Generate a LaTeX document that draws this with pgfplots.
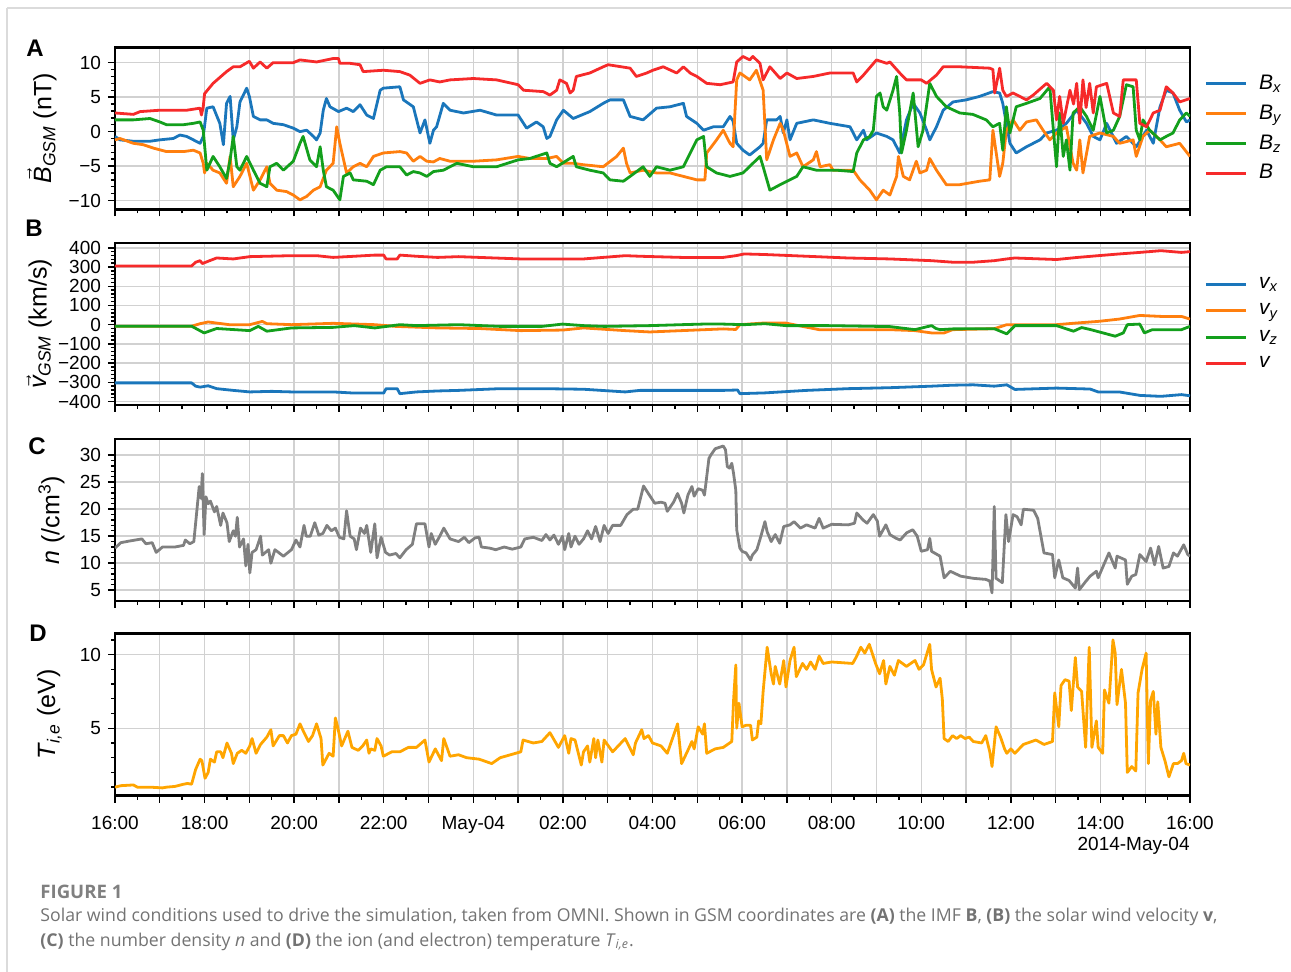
\documentclass[border=0pt]{standalone}
\usepackage{pgfplots}
\pgfplotsset{compat=1.18}
\usepackage{amsmath}
\usepackage{fontspec}
\setmainfont{Liberation Sans}
\newfontfamily\capfont{Open Sans}
\definecolor{cblue}{HTML}{1A76BB}
\definecolor{corange}{HTML}{FF7F0E}
\definecolor{cgreen}{HTML}{139F1C}
\definecolor{cred}{HTML}{F62A2A}
\definecolor{cgray}{HTML}{808080}
\definecolor{ctemp}{HTML}{FFA500}
\pgfplotsset{
  panel/.style={
    width=537.5pt, height=81pt, scale only axis,
    xmin=0, xmax=24,
    xtick={0,1,...,24},
    minor x tick num=1,
    xticklabels={},
    grid=major,
    major grid style={line width=0.7pt, color=black!18},
    axis line style={line width=1.3pt},
    tick style={line width=0.7pt, color=black},
    major tick length=3.5pt, minor tick length=2pt,
    tick align=outside,
    xtick pos=bottom, ytick pos=left,
    tick label style={font=\fontsize{9.5}{10}\selectfont},
    xticklabel style={yshift=-3pt},
    y label style={anchor=center, font=\fontsize{12.5}{13}\selectfont},
    every axis plot/.append style={line width=1.4pt, line join=round},
    legend style={at={(axis description cs:1,0.5)}, anchor=west, xshift=4pt, draw=none, fill=none,
      font=\fontsize{10.5}{11}\selectfont, row sep=2.2pt},
    legend cell align=left,
    legend image code/.code={\draw[#1, line width=1.4pt] (0pt,0pt) -- (20pt,0pt); \path (24pt,0pt);},
  }
}
\begin{document}
\begin{tikzpicture}
\useasboundingbox (0,0) rectangle (645.5pt,-486pt);
\draw[black!14, line width=0.6pt] (3.5pt,-4pt) -- (645.5pt,-4pt);
\draw[black!14, line width=0.6pt] (3.5pt,-4pt) -- (3.5pt,-486pt);

% ---------------- Panel A ----------------
\begin{axis}[panel, at={(57.5pt,-104.75pt)}, anchor=south west,
  ymin=-11.3, ymax=12.2,
  ytick={-10,-5,0,5,10}, yticklabels={−10,−5,0,5,10},
  minor y tick num=4,
  ylabel={$\vec{\text{\itshape B}}$\textsubscript{\itshape GSM} (nT)},
  y label style={at={(axis description cs:-0.068,0.5)}},
]
\addplot[cblue] table {
0 -0.7
0.11 -1.2
0.41 -1.4
0.78 -1.4
1.0 -1.2
1.30 -1.0
1.45 -0.5
1.60 -0.7
1.75 -1.2
1.90 -1.7
1.97 -0.7
2.05 3.4
2.19 3.6
2.34 1.2
2.42 -1.9
2.49 4.1
2.57 5.1
2.64 -1.2
2.72 0.7
2.79 4.3
2.94 6.3
3.0 5.1
3.09 2.2
3.24 1.7
3.39 1.7
3.53 1.2
3.76 1.0
3.98 0.5
4.13 0.0
4.28 0.2
4.43 -0.7
4.50 -1.2
4.58 -0.2
4.65 3.1
4.72 4.8
4.80 3.6
4.99 2.9
5.17 3.4
5.32 2.9
5.47 3.9
5.62 2.4
5.77 1.9
5.92 6.0
5.99 6.3
6.36 6.5
6.44 4.6
6.66 3.6
6.81 -0.2
6.92 1.7
7.03 -1.7
7.11 0.2
7.18 0.7
7.33 4.1
7.48 3.1
7.78 2.7
8.15 3.1
8.52 2.4
9.0 2.4
9.19 0.5
9.41 1.4
9.56 0.7
9.64 -1.0
9.71 -0.7
9.86 1.7
10.01 3.1
10.23 1.9
10.60 2.9
10.90 4.1
11.05 4.6
11.35 4.6
11.50 2.2
11.79 1.7
12.09 3.4
12.39 3.6
12.69 4.1
12.76 2.2
12.99 1.2
13.14 0.2
13.36 0.7
13.58 0.7
13.73 2.2
13.80 1.5
13.88 -1.7
14.02 -2.7
14.17 -3.4
14.40 -2.2
14.47 -1.7
14.55 1.7
14.77 1.7
14.85 2.2
14.92 -0.2
15.0 1.7
15.07 -1.2
15.22 1.2
15.59 1.7
15.96 1.2
16.41 0.7
16.56 -1.2
16.71 0.2
16.78 -1.2
17.0 -0.2
17.23 -0.7
17.37 -1.2
17.52 -3.1
17.67 1.7
17.82 4.1
17.97 2.7
18.12 0.2
18.19 -1.2
18.34 0.7
18.49 3.1
18.71 4.3
19.0 4.6
19.30 5.1
19.60 5.8
19.75 5.6
19.82 4.1
19.98 -1.7
20.12 -3.1
20.35 -2.2
20.65 -1.2
20.80 -0.2
21.02 0.2
21.24 1.2
21.47 3.1
21.69 1.2
21.84 -0.7
21.99 -1.2
22.14 1.2
22.36 -1.7
22.58 -0.7
22.80 -2.2
23.03 0.2
23.18 -1.7
23.33 3.6
23.47 6.0
23.62 5.6
23.77 3.1
23.92 1.4
24.0 1.7
};
\addlegendentry{\itshape B\textsubscript{x}}
\addplot[corange] table {
0 -1.2
0.11 -1.0
0.41 -1.7
0.63 -1.9
0.86 -2.4
1.15 -2.9
1.53 -2.9
1.75 -2.7
1.90 -3.1
1.97 -4.6
2.0 -6.0
2.05 -4.6
2.19 -5.6
2.34 -6.0
2.49 -7.5
2.57 -3.6
2.64 -8.0
2.79 -6.5
2.94 -4.6
3.09 -8.5
3.24 -7.0
3.39 -5.1
3.46 -7.5
3.61 -8.5
3.83 -8.7
3.98 -9.2
4.13 -9.9
4.28 -9.4
4.43 -8.5
4.58 -8.0
4.72 -5.6
4.87 -4.6
4.95 0.7
5.02 -1.7
5.17 -6.0
5.32 -5.1
5.47 -4.6
5.62 -5.1
5.77 -3.6
5.99 -3.1
6.36 -2.9
6.51 -3.1
6.66 -4.3
6.81 -3.6
6.96 -4.3
7.11 -4.4
7.25 -3.9
7.48 -4.3
8.0 -4.3
8.52 -4.1
9.0 -3.6
9.26 -3.9
9.64 -3.9
9.86 -3.6
10.01 -4.6
10.23 -4.6
10.45 -4.8
10.90 -5.1
11.20 -3.6
11.35 -2.4
11.42 -4.6
11.50 -6.0
11.79 -5.6
12.09 -6.0
12.39 -6.0
12.69 -6.5
12.99 -7.0
13.17 -7.0
13.21 -3.1
13.43 -1.2
13.58 0.2
13.73 -1.7
13.80 -2.2
13.88 7.5
13.95 8.5
14.02 8.2
14.17 7.5
14.32 8.9
14.47 6.0
14.55 -4.1
14.70 -1.2
14.85 1.2
14.92 0.2
15.07 -3.6
15.22 -3.1
15.36 -5.1
15.59 -4.1
15.66 -2.9
15.74 -5.1
15.96 -4.8
16.03 -5.6
16.48 -5.6
16.63 -7.0
16.85 -8.5
17.0 -9.9
17.15 -8.5
17.30 -9.2
17.45 -6.5
17.49 -3.6
17.60 -6.5
17.74 -7.0
17.89 -4.3
17.97 -6.0
18.12 -5.6
18.19 -3.9
18.34 -5.6
18.56 -7.7
18.86 -7.7
19.30 -7.2
19.53 -7.0
19.60 0.2
19.75 -6.5
19.82 -4.6
19.90 0.2
20.05 1.7
20.20 0.2
20.35 1.4
20.57 1.7
20.72 0.2
20.87 -1.2
21.02 -0.2
21.24 0.7
21.39 -4.6
21.47 -5.6
21.54 -1.2
21.61 -6.0
21.76 -0.7
21.99 -0.2
22.29 -0.7
22.43 -1.7
22.73 -1.2
22.80 -3.6
22.95 -0.7
23.10 0.2
23.33 -1.2
23.47 -2.2
23.77 -1.7
24.0 -3.6
};
\addlegendentry{\itshape B\textsubscript{y}}
\addplot[cgreen] table {
0 1.7
0.41 1.7
0.78 1.9
1.0 1.4
1.15 1.0
1.53 1.0
1.75 1.2
1.90 1.4
1.97 0.2
2.05 -5.6
2.19 -3.6
2.34 -5.1
2.49 -6.8
2.57 -4.1
2.64 -0.7
2.72 -5.1
2.79 -5.6
2.94 -3.6
3.09 -5.6
3.24 -7.5
3.39 -8.0
3.46 -5.1
3.61 -4.6
3.76 -5.6
3.98 -4.3
4.13 -1.7
4.20 -0.7
4.35 -4.1
4.50 -5.1
4.58 -2.2
4.65 -5.6
4.72 -8.0
4.87 -8.5
5.02 -9.9
5.10 -6.5
5.25 -6.0
5.32 -7.0
5.62 -7.2
5.77 -7.7
5.92 -5.6
6.06 -5.1
6.36 -5.1
6.51 -6.3
6.66 -5.8
6.81 -6.0
6.96 -6.5
7.11 -5.8
7.33 -5.6
7.63 -4.6
8.0 -5.1
8.52 -5.1
9.0 -4.1
9.26 -3.9
9.64 -3.1
9.71 -4.6
9.86 -5.1
10.23 -3.6
10.30 -5.1
10.60 -5.6
10.90 -6.0
11.05 -7.0
11.35 -7.2
11.50 -6.5
11.79 -5.1
11.94 -6.5
12.09 -5.1
12.39 -5.6
12.69 -5.1
12.99 -1.2
13.14 -0.7
13.21 -5.1
13.43 -6.0
13.73 -6.5
14.02 -6.0
14.40 -3.6
14.47 -5.1
14.62 -8.5
14.85 -7.7
15.22 -6.5
15.36 -5.1
15.66 -5.6
16.11 -5.6
16.48 -5.8
16.56 -3.1
16.71 -1.2
16.85 -0.7
16.93 0.2
17.0 5.1
17.08 5.6
17.15 3.6
17.23 3.1
17.37 6.0
17.45 8.0
17.52 2.7
17.56 -3.1
17.67 0.2
17.82 5.6
17.93 -2.2
18.04 0.2
18.19 7.0
18.34 5.1
18.56 3.6
18.86 2.7
19.15 2.5
19.45 1.7
19.60 0.7
19.75 1.2
19.82 -2.7
19.90 3.6
19.98 -0.2
20.12 3.6
20.35 4.1
20.65 4.8
20.87 6.5
20.95 0.2
21.02 -5.1
21.09 2.7
21.17 -3.6
21.24 -1.2
21.32 -5.6
21.39 2.7
21.54 3.6
21.69 2.2
21.84 0.2
21.99 5.1
22.14 -0.2
22.29 0.2
22.43 2.2
22.58 6.8
22.73 6.5
22.80 0.2
22.88 -1.2
22.95 1.7
23.10 0.2
23.33 -1.2
23.47 -0.7
23.62 -0.2
23.77 1.7
23.92 2.7
24.0 2.2
};
\addlegendentry{\itshape B\textsubscript{z}}
\addplot[cred] table {
0 2.7
0.41 2.5
0.56 2.9
1.0 3.1
1.6 3.1
1.9 3.4
1.93 2.4
1.97 3.6
2.0 5.5
2.19 7.0
2.49 8.7
2.64 9.4
2.79 9.4
3.0 10.2
3.09 9.2
3.24 10.1
3.39 9.2
3.53 10.0
3.98 10.0
4.13 10.4
4.5 10.1
4.87 10.6
4.99 10.6
5.02 9.9
5.25 9.9
5.47 9.7
5.54 8.7
5.99 8.9
6.36 8.7
6.58 8.2
6.81 7.0
7.03 7.5
7.25 7.2
7.48 7.5
8.0 7.7
8.52 7.5
9.0 6.8
9.12 6.0
9.56 5.8
9.71 5.3
9.86 6.0
9.93 7.5
10.08 7.0
10.16 5.6
10.23 6.0
10.30 8.0
10.60 8.5
10.90 9.4
11.01 9.7
11.50 9.2
11.64 8.0
11.87 8.5
12.01 8.9
12.24 9.4
12.54 8.5
12.69 9.4
12.84 8.5
12.99 8.0
13.21 7.0
13.51 6.8
13.80 7.2
13.88 10.1
14.02 10.9
14.17 10.4
14.24 10.9
14.40 9.9
14.47 7.5
14.62 9.4
14.85 7.7
15.0 8.5
15.22 7.7
15.59 8.0
15.96 8.5
16.48 8.5
16.56 7.2
16.71 8.2
17.0 10.4
17.23 9.9
17.30 10.1
17.52 8.5
17.67 7.5
18.0 7.5
18.12 7.0
18.34 8.2
18.49 9.4
18.86 9.4
19.53 9.2
19.60 9.0
19.64 5.6
19.75 9.2
19.82 6.0
19.90 5.1
20.05 5.6
20.35 4.6
20.50 5.3
20.80 7.0
20.95 6.0
21.02 1.7
21.09 5.1
21.17 1.2
21.32 6.0
21.40 4.0
21.47 7.0
21.54 1.2
21.61 7.5
21.68 3.5
21.76 7.0
21.84 2.7
21.91 6.5
22.14 7.0
22.29 2.7
22.43 2.2
22.51 7.5
22.80 7.5
22.88 1.2
23.03 0.7
23.18 2.7
23.33 3.1
23.47 6.5
23.62 5.6
23.77 4.3
24.0 4.8
};
\addlegendentry{\itshape B}
\end{axis}

% ---------------- Panel B ----------------
\begin{axis}[panel, at={(57.5pt,-202.5pt)}, anchor=south west,
  ymin=-418, ymax=425,
  ytick={-400,-300,...,400}, yticklabels={−400,−300,−200,−100,0,100,200,300,400},
  minor y tick num=4,
  ylabel={$\vec{\text{\itshape v}}$\textsubscript{\itshape GSM} (km/s)},
  y label style={at={(axis description cs:-0.0705,0.5)}},
]
\addplot[cblue] table {
0 -303
1.71 -303
1.80 -320
1.90 -325
2.08 -318
2.27 -333
2.64 -342
3.01 -350
3.50 -347
3.94 -350
4.87 -350
5.34 -356
5.80 -356
6.0 -356
6.05 -333
6.30 -333
6.36 -359
6.73 -350
7.20 -345
7.67 -342
8.60 -333
9.53 -333
10.46 -336
11.39 -350
11.72 -342
12.65 -342
13.58 -342
13.90 -340
13.95 -359
14.51 -355
15.44 -342
16.37 -333
17.30 -328
18.23 -320
18.70 -315
19.16 -313
19.63 -320
19.91 -313
20.09 -337
21.02 -330
21.77 -335
21.95 -350
22.42 -350
22.88 -368
23.35 -373
23.81 -364
24.0 -370
};
\addlegendentry{\itshape v\textsubscript{x}}
\addplot[corange] table {
0 -8
1.71 -8
1.90 5
2.08 14
2.55 0
3.01 0
3.29 17
3.39 5
3.94 0
4.87 7
5.80 0
6.27 -9
7.20 -17
8.13 -20
9.06 -31
10.0 -28
10.46 -17
11.39 -31
11.94 -38
12.65 -31
13.58 -22
13.86 -25
13.95 0
14.51 9
14.98 8
15.72 -26
17.30 -26
17.86 -31
18.23 -43
18.51 -43
18.70 -26
19.63 -21
19.91 0
21.02 0
21.49 9
21.95 17
22.42 29
22.88 48
23.35 43
23.81 43
24.0 29
};
\addlegendentry{\itshape v\textsubscript{y}}
\addplot[cgreen] table {
0 -8
1.71 -8
1.99 -43
2.27 -20
3.01 -31
3.20 -9
3.39 -34
3.94 -17
4.87 -14
5.34 -5
5.80 -17
6.36 0
6.73 -5
7.67 0
8.60 -9
9.53 -9
9.99 3
10.46 -5
10.92 -9
11.94 -5
12.65 0
13.12 3
13.58 3
14.05 0
14.51 5
14.98 -5
15.91 -5
17.30 -10
17.86 -26
18.23 -5
18.33 -20
18.42 -26
18.70 -22
19.63 -21
19.91 -48
20.09 -5
21.02 -5
21.40 -34
21.58 -15
21.77 -25
22.33 -60
22.51 -43
22.60 0
22.88 3
22.98 -43
23.16 -26
23.81 -26
24.0 -9
};
\addlegendentry{\itshape v\textsubscript{z}}
\addplot[cred] table {
0 305
1.71 305
1.80 325
1.90 333
1.95 318
2.08 330
2.27 347
2.64 342
3.01 354
3.94 359
4.50 359
4.87 350
5.34 356
5.80 362
6.0 362
6.05 342
6.30 342
6.36 362
6.73 356
7.20 350
7.67 354
8.13 350
9.06 342
10.46 342
11.39 359
11.72 356
12.65 350
13.58 350
13.86 359
14.05 368
14.51 365
15.44 356
16.37 347
17.30 342
18.23 333
18.70 325
19.16 325
19.63 333
19.91 342
20.09 347
21.02 339
21.49 350
21.95 359
22.42 368
22.88 376
23.35 385
23.81 376
24.0 380
};
\addlegendentry{\itshape v}
\end{axis}

% ---------------- Panel C ----------------
\begin{axis}[panel, at={(57.5pt,-300.5pt)}, anchor=south west,
  ymin=3.0, ymax=33.0,
  ytick={5,10,...,30}, yticklabels={5,10,15,20,25,30},
  minor y tick num=4,
  ylabel={\textit{n} (/cm\textsuperscript{3})},
  y label style={at={(axis description cs:-0.059,0.5)}},
]
\addplot[cgray] table {
0 12.8
0.13 13.8
0.32 14.1
0.6 14.5
0.69 13.6
0.83 13.8
0.92 12.0
1.06 13.0
1.34 13.0
1.53 13.3
1.57 14.3
1.67 13.6
1.76 14.0
1.88 24.2
1.92 22.0
1.95 26.6
1.99 15.3
2.03 22.3
2.08 21.0
2.13 21.5
2.22 19.5
2.27 20.5
2.36 17.0
2.41 19.3
2.50 17.5
2.55 14.0
2.64 16.0
2.69 15.0
2.73 18.5
2.78 13.0
2.87 14.5
2.92 9.5
2.97 13.5
3.01 8.2
3.06 12.0
3.15 12.5
3.25 15.0
3.29 11.5
3.43 12.5
3.48 10.0
3.57 12.5
3.76 11.3
3.94 12.5
4.04 14.3
4.13 13.0
4.22 17.0
4.27 15.0
4.36 15.0
4.46 17.5
4.55 15.2
4.64 15.5
4.73 17.0
4.83 16.0
4.92 16.5
5.01 14.8
5.11 14.5
5.17 19.7
5.25 15.0
5.34 14.5
5.39 12.5
5.48 16.5
5.57 15.5
5.62 17.0
5.71 12.0
5.80 17.3
5.85 11.0
5.94 14.8
6.04 12.0
6.13 11.5
6.27 11.8
6.36 11.0
6.50 12.5
6.64 13.5
6.73 17.3
6.92 17.3
7.01 13.0
7.06 15.5
7.15 13.5
7.25 15.0
7.34 16.5
7.48 14.5
7.67 14.0
7.80 14.8
7.90 13.8
8.04 14.7
8.13 14.8
8.18 13.0
8.36 12.8
8.50 12.5
8.69 13.0
8.87 12.6
9.06 13.0
9.15 14.5
9.34 14.8
9.53 14.2
9.62 15.3
9.71 14.3
9.80 15.2
9.90 13.5
9.99 15.0
10.04 12.5
10.13 15.5
10.18 13.0
10.27 15.0
10.36 13.5
10.46 14.5
10.55 16.0
10.64 14.5
10.73 16.8
10.83 14.0
10.92 17.0
11.01 15.5
11.11 17.0
11.29 17.0
11.43 19.0
11.57 20.0
11.67 20.0
11.80 24.3
11.90 23.0
12.05 21.1
12.19 21.3
12.28 21.1
12.33 19.6
12.47 21.3
12.56 22.9
12.65 21.1
12.70 19.3
12.79 22.6
12.84 23.5
12.88 24.2
12.93 22.4
13.02 23.8
13.12 23.5
13.16 22.6
13.26 29.4
13.30 30.0
13.40 31.2
13.58 31.7
13.63 31.0
13.67 27.9
13.72 27.6
13.77 28.5
13.81 26.6
13.86 23.5
13.88 16.2
13.95 12.8
14.0 12.2
14.09 11.9
14.19 10.6
14.23 11.5
14.33 12.5
14.42 15.0
14.51 17.7
14.56 15.8
14.65 14.0
14.74 15.3
14.84 13.7
14.93 16.8
15.07 17.1
15.16 17.7
15.30 16.5
15.44 17.1
15.63 16.5
15.72 18.3
15.81 16.5
16.0 17.2
16.37 17.1
16.51 17.4
16.56 19.3
16.70 18.0
16.79 17.4
16.93 19.0
17.02 17.8
17.07 15.0
17.21 17.1
17.30 15.3
17.44 14.6
17.53 14.3
17.67 15.6
17.81 16.2
17.91 15.0
18.0 12.2
18.14 12.5
18.19 14.6
18.23 12.2
18.42 11.3
18.51 7.3
18.65 8.5
18.88 7.6
19.16 7.2
19.44 7.0
19.53 6.7
19.58 4.5
19.63 20.5
19.67 7.2
19.81 6.4
19.89 19.0
19.95 14.0
20.05 19.0
20.14 18.6
20.23 17.1
20.28 20.0
20.51 19.8
20.60 18.3
20.74 11.9
20.93 11.6
20.98 7.3
21.07 10.6
21.16 7.3
21.30 6.8
21.44 5.4
21.49 9.1
21.53 5.1
21.67 6.6
21.77 7.6
21.91 8.5
21.95 7.3
22.09 10.0
22.19 11.9
22.33 9.1
22.37 11.3
22.56 10.6
22.60 6.1
22.70 7.6
22.79 7.9
22.88 11.6
23.02 10.3
23.12 12.8
23.21 9.7
23.30 13.1
23.40 9.1
23.53 9.4
23.63 11.9
23.72 11.3
23.86 13.4
23.95 11.6
24.0 11.3
};
\end{axis}

% ---------------- Panel D ----------------
\begin{axis}[panel, at={(57.5pt,-397.85pt)}, anchor=south west,
  ymin=0.42, ymax=11.42,
  ytick={5,10}, yticklabels={5,10},
  minor ytick={1,2,3,4,6,7,8,9,11},
  xticklabels={16:00,,18:00,,20:00,,22:00,,May-04,,02:00,,04:00,,06:00,,08:00,,10:00,,12:00,,14:00,,16:00},
  ylabel={\textit{T}\textsubscript{\itshape i,e} (eV)},
  y label style={at={(axis description cs:-0.061,0.5)}},
]
\addplot[ctemp] table {
0 1.0
0.13 1.1
0.41 1.15
0.50 1.0
0.78 1.0
1.06 0.95
1.15 1.0
1.34 1.05
1.53 1.2
1.62 1.25
1.71 1.2
1.80 2.2
1.90 2.9
1.94 2.8
2.01 1.6
2.08 2.0
2.13 2.9
2.22 2.7
2.27 3.4
2.36 3.4
2.41 3.0
2.50 4.0
2.60 3.3
2.64 2.6
2.73 3.3
2.83 3.5
2.92 3.3
3.01 3.8
3.06 4.3
3.15 3.3
3.25 3.9
3.39 4.4
3.48 4.9
3.53 3.8
3.67 4.5
3.76 4.5
3.85 4.0
3.94 4.5
4.04 4.6
4.13 5.3
4.22 4.7
4.32 4.1
4.41 4.5
4.50 5.3
4.60 4.3
4.64 2.5
4.78 3.3
4.87 3.1
4.92 5.7
4.97 5.1
5.06 3.8
5.20 4.8
5.29 3.7
5.43 3.5
5.53 3.8
5.62 4.2
5.67 3.3
5.71 3.6
5.80 3.5
5.85 4.3
5.94 3.8
5.99 3.1
6.18 3.4
6.36 3.4
6.55 3.7
6.73 3.7
6.92 4.2
7.01 2.7
7.15 3.6
7.29 2.8
7.34 4.3
7.48 3.1
7.67 3.2
7.85 3.0
8.13 2.9
8.41 2.6
8.60 3.0
9.06 3.4
9.11 4.2
9.34 4.0
9.53 4.1
9.71 4.7
9.90 3.7
10.04 4.5
10.13 3.3
10.18 4.3
10.27 4.2
10.41 2.5
10.46 3.4
10.55 3.8
10.60 2.7
10.69 4.3
10.73 3.0
10.78 4.2
10.87 2.7
10.92 4.2
11.11 3.4
11.39 4.3
11.57 3.2
11.62 4.0
11.76 4.9
11.81 4.3
11.91 4.5
12.0 4.0
12.19 3.8
12.33 3.3
12.56 5.3
12.65 2.6
12.79 3.5
12.88 4.1
12.93 3.6
13.02 5.1
13.12 4.6
13.16 5.3
13.21 3.3
13.40 3.6
13.58 3.7
13.77 4.1
13.81 6.9
13.86 9.3
13.88 5.0
13.93 6.7
14.0 5.1
14.09 5.2
14.19 5.2
14.23 4.2
14.33 4.4
14.37 5.5
14.42 5.3
14.47 7.5
14.56 10.5
14.65 8.7
14.70 8.0
14.74 9.2
14.84 8.0
14.93 9.6
14.98 7.8
15.07 9.6
15.16 10.5
15.21 8.5
15.35 9.4
15.44 9.0
15.53 9.5
15.63 9.0
15.72 9.9
15.81 9.4
16.0 9.5
16.47 9.4
16.56 9.9
16.65 10.5
16.74 10.1
16.84 10.7
16.98 9.4
17.07 8.7
17.16 9.6
17.21 8.0
17.30 9.2
17.40 8.6
17.49 9.6
17.67 9.2
17.86 9.6
17.95 9.0
18.05 9.3
18.19 10.7
18.23 9.0
18.33 7.8
18.42 8.4
18.47 7.0
18.51 4.3
18.60 4.1
18.70 4.5
18.79 4.3
18.88 4.5
18.98 4.3
19.07 4.4
19.16 4.1
19.35 4.0
19.44 4.5
19.53 3.4
19.58 2.4
19.67 5.1
19.77 4.4
19.86 3.6
19.91 3.3
20.0 3.6
20.09 3.3
20.28 3.9
20.56 4.2
20.74 3.9
20.93 4.1
20.98 7.4
21.07 5.1
21.12 7.9
21.21 8.3
21.30 8.2
21.35 6.2
21.44 9.8
21.49 7.8
21.58 7.5
21.67 3.7
21.75 10.5
21.81 3.7
21.91 5.5
21.95 3.7
22.05 3.3
22.09 7.6
22.19 6.7
22.28 11.0
22.33 10.1
22.37 6.6
22.47 9.0
22.56 6.7
22.60 2.0
22.70 2.4
22.79 2.1
22.84 7.4
22.93 9.0
23.02 10.1
23.07 2.6
23.12 6.9
23.18 7.5
23.24 4.6
23.28 6.8
23.35 3.7
23.44 2.8
23.53 1.7
23.63 2.6
23.72 2.6
23.81 2.8
23.86 3.3
23.91 2.6
24.0 2.5
};
\end{axis}

% panel letters
\node[font=\bfseries\fontsize{12}{12}\selectfont] at (17.5pt,-24pt) {A};
\node[font=\bfseries\fontsize{12}{12}\selectfont] at (17pt,-114pt) {B};
\node[font=\bfseries\fontsize{12}{12}\selectfont] at (18.5pt,-223pt) {C};
\node[font=\bfseries\fontsize{12}{12}\selectfont] at (19pt,-316.5pt) {D};
\node[anchor=east, inner sep=0pt, font=\fontsize{9.5}{10}\selectfont] at (595pt,-423pt) {2014-May-04};

% caption
\node[anchor=west, inner sep=0pt, text=black!50, font=\capfont\bfseries\fontsize{9.3}{10}\selectfont] at (20pt,-445.8pt) {FIGURE 1};
\node[anchor=west, inner sep=0pt, text=black!55, font=\capfont\fontsize{8.85}{10}\selectfont] at (20pt,-458.3pt)
 {Solar wind conditions used to drive the simulation, taken from OMNI. Shown in GSM coordinates are \textbf{(A)} the IMF \textbf{B}, \textbf{(B)} the solar wind velocity \textbf{v},};
\node[anchor=west, inner sep=0pt, text=black!55, font=\capfont\fontsize{8.85}{10}\selectfont] at (20pt,-470.8pt)
 {\textbf{(C)} the number density \textit{n} and \textbf{(D)} the ion (and electron) temperature \textit{T}\textsubscript{\itshape i,e}.};
\end{tikzpicture}
\end{document}
